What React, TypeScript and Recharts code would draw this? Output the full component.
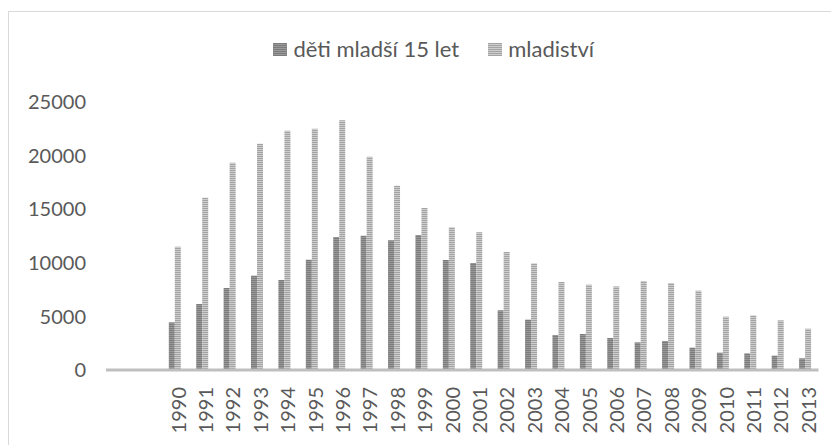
import React from "react";
import { BarChart, Bar, XAxis, YAxis, Legend } from "recharts";

const leadingBlankCategories = ["", ""];
const years = [
  "1990", "1991", "1992", "1993", "1994", "1995", "1996", "1997", "1998", "1999",
  "2000", "2001", "2002", "2003", "2004", "2005", "2006", "2007", "2008", "2009",
  "2010", "2011", "2012", "2013",
];
const detiMladsi15 = [
  4450, 6160, 7650, 8800, 8400, 10290, 12400, 12530, 12100, 12590,
  10260, 9980, 5570, 4700, 3265, 3360, 2985, 2580, 2705, 2085,
  1615, 1555, 1340, 1090,
];
const mladistvi = [
  11500, 16075, 19340, 21110, 22320, 22510, 23290, 19900, 17190, 15110,
  13310, 12840, 11010, 9950, 8210, 7960, 7800, 8300, 8115, 7400,
  4975, 5100, 4635, 3855,
];
const yTicks = [0, 5000, 10000, 15000, 20000, 25000];
const seriesNames = ["děti mladší 15 let", "mladiství"];

const data = [
  ...leadingBlankCategories.map((label) => ({ label, deti: null, mlad: null })),
  ...years.map((label, i) => ({ label, deti: detiMladsi15[i], mlad: mladistvi[i] })),
];

const FONT = "Lato, 'Liberation Sans', sans-serif";
const TEXT = "#595959";

const XTick = (props: any) => {
  const { x, y, payload } = props;
  return (
    <g transform={`translate(${x + 4},${y})`}>
      <text
        transform="rotate(-90)"
        textAnchor="end"
        dy="0.35em"
        fill={TEXT}
        fontSize={20}
        fontFamily={FONT}
      >
        {payload.value}
      </text>
    </g>
  );
};

const LegendContent = () => {
  const items = [
    { name: seriesNames[0], fill: "url(#patDark)" },
    { name: seriesNames[1], fill: "url(#patLight)" },
  ];
  return (
    <div
      style={{
        height: 62,
        display: "flex",
        justifyContent: "center",
        alignItems: "flex-start",
        paddingLeft: 40,
        fontFamily: FONT,
        fontSize: 22,
        color: TEXT,
        lineHeight: "18px",
      }}
    >
      {items.map((it, i) => (
        <div key={i} style={{ display: "flex", alignItems: "center", marginRight: i === 0 ? 29 : 0 }}>
          <svg width={14} height={13} style={{ marginRight: 6 }}>
            <rect width={14} height={13} fill={it.fill} />
          </svg>
          <span>{it.name}</span>
        </div>
      ))}
    </div>
  );
};

export default function App() {
  return (
    <div style={{ paddingTop: 3 }}>
      <div
        style={{
          borderTop: "1px solid #d9d9d9",
          borderLeft: "1px solid #d9d9d9",
          width: 830,
          height: 433,
          position: "relative",
        }}
      >
        <BarChart
          width={830}
          height={433}
          data={data}
          margin={{ top: 28, right: 20.5, left: 0, bottom: 0 }}
          barGap={0}
          barSize={6}
        >
          <defs>
            <pattern id="patDark" patternUnits="userSpaceOnUse" width={4} height={2}>
              <rect width={4} height={2} fill="#7c7c7c" />
              <rect y={1} width={4} height={1} fill="#999999" />
            </pattern>
            <pattern id="patLight" patternUnits="userSpaceOnUse" width={4} height={2}>
              <rect width={4} height={2} fill="#a3a3a3" />
              <rect y={1} width={4} height={1} fill="#cdcdcd" />
            </pattern>
          </defs>
          <Legend verticalAlign="top" content={<LegendContent />} />
          <XAxis
            dataKey="label"
            height={75}
            interval={0}
            tickLine={false}
            tickSize={0}
            tickMargin={17}
            axisLine={{ stroke: "#bfbfbf", strokeWidth: 3 }}
            tick={<XTick />}
          />
          <YAxis
            width={97}
            domain={[0, 25000]}
            ticks={yTicks}
            axisLine={false}
            tickLine={false}
            tickSize={0}
            tickMargin={20}
            tick={{ fill: TEXT, fontSize: 20, fontFamily: FONT }}
          />
          <Bar dataKey="deti" name={seriesNames[0]} fill="url(#patDark)" isAnimationActive={false} />
          <Bar dataKey="mlad" name={seriesNames[1]} fill="url(#patLight)" isAnimationActive={false} />
        </BarChart>
      </div>
    </div>
  );
}
